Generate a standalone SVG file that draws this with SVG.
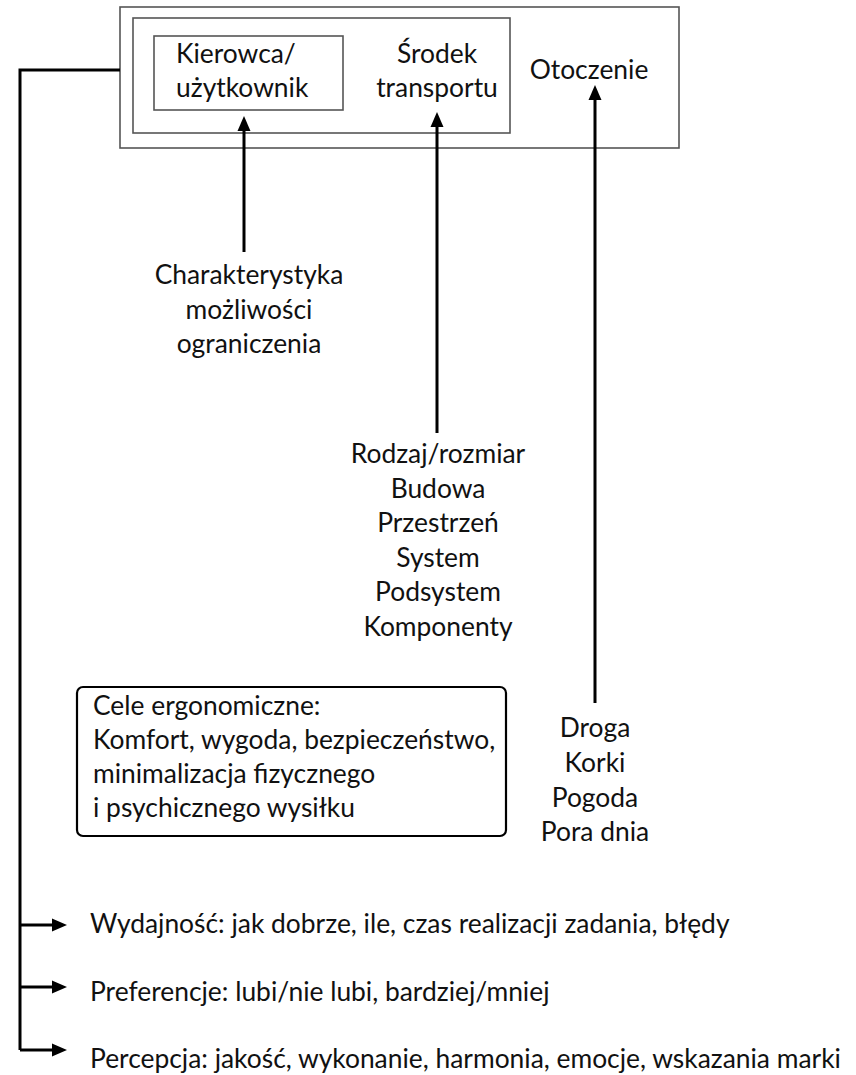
<svg xmlns="http://www.w3.org/2000/svg" width="856" height="1075" viewBox="0 0 856 1075">
  <defs>
    <style>
      text { font-family: Lato, "Noto Sans", "Liberation Sans", sans-serif; font-size: 26.4px; fill: #111; }
      .c { text-anchor: middle; }
      .frame { fill: none; stroke: #555; stroke-width: 1.6; }
      .goal { fill: #fff; stroke: #000; stroke-width: 2.2; }
      .wire { fill: none; stroke: #000; stroke-width: 3; }
    </style>
    <marker id="ah" markerUnits="userSpaceOnUse" markerWidth="16" markerHeight="14" viewBox="0 0 16 14" refX="0" refY="7" orient="auto">
      <path d="M0,0.5 L15,7 L0,13.5 Z" fill="#000"/>
    </marker>
  </defs>
  <rect width="856" height="1075" fill="#fff"/>

  <g id="system">
    <rect class="frame" x="120" y="7" width="559" height="141"/>
    <text x="589" y="79" class="c">Otoczenie</text>
  </g>
  <g id="vehicle">
    <rect class="frame" x="133" y="18" width="377" height="115"/>
    <text x="437" y="63" class="c">Środek</text>
    <text x="437" y="97" class="c">transportu</text>
  </g>
  <g id="driver">
    <rect class="frame" x="154" y="36" width="189" height="74"/>
    <text x="176" y="63">Kierowca/</text>
    <text x="176" y="97">użytkownik</text>
  </g>

  <g id="driver-traits">
    <text x="249" y="284" class="c">Charakterystyka</text>
    <text x="249" y="319" class="c">możliwości</text>
    <text x="249" y="353" class="c">ograniczenia</text>
  </g>
  <g id="vehicle-traits">
    <text x="438" y="463" class="c">Rodzaj/rozmiar</text>
    <text x="438" y="497.5" class="c">Budowa</text>
    <text x="438" y="532" class="c">Przestrzeń</text>
    <text x="438" y="566.5" class="c">System</text>
    <text x="438" y="601" class="c">Podsystem</text>
    <text x="438" y="635.5" class="c">Komponenty</text>
  </g>
  <g id="environment-traits">
    <text x="595" y="737" class="c">Droga</text>
    <text x="595" y="772" class="c">Korki</text>
    <text x="595" y="806.5" class="c">Pogoda</text>
    <text x="595" y="840.5" class="c">Pora dnia</text>
  </g>
  <g id="goals">
    <rect class="goal" x="77" y="687" width="429" height="149" rx="6"/>
    <text x="93" y="715">Cele ergonomiczne:</text>
    <text x="93" y="749">Komfort, wygoda, bezpieczeństwo,</text>
    <text x="93" y="783">minimalizacja fizycznego</text>
    <text x="93" y="817">i psychicznego wysiłku</text>
  </g>
  <g id="performance">
    <text x="90" y="933">Wydajność: jak dobrze, ile, czas realizacji zadania, błędy</text>
  </g>
  <g id="preferences">
    <text x="90" y="1001">Preferencje: lubi/nie lubi, bardziej/mniej</text>
  </g>
  <g id="perception">
    <text x="90" y="1068">Percepcja: jakość, wykonanie, harmonia, emocje, wskazania marki</text>
  </g>

  <g id="connectors">
    <path class="wire" d="M244,252 V131" marker-end="url(#ah)"/>
    <path class="wire" d="M437,433 V127" marker-end="url(#ah)"/>
    <path class="wire" d="M595,703 V100" marker-end="url(#ah)"/>
    <path class="wire" d="M120,70 H20 V1050" stroke-linejoin="miter"/>
    <path class="wire" d="M20,925 H52" marker-end="url(#ah)"/>
    <path class="wire" d="M20,987 H52" marker-end="url(#ah)"/>
    <path class="wire" d="M20,1050 H52" marker-end="url(#ah)"/>
  </g>
</svg>
